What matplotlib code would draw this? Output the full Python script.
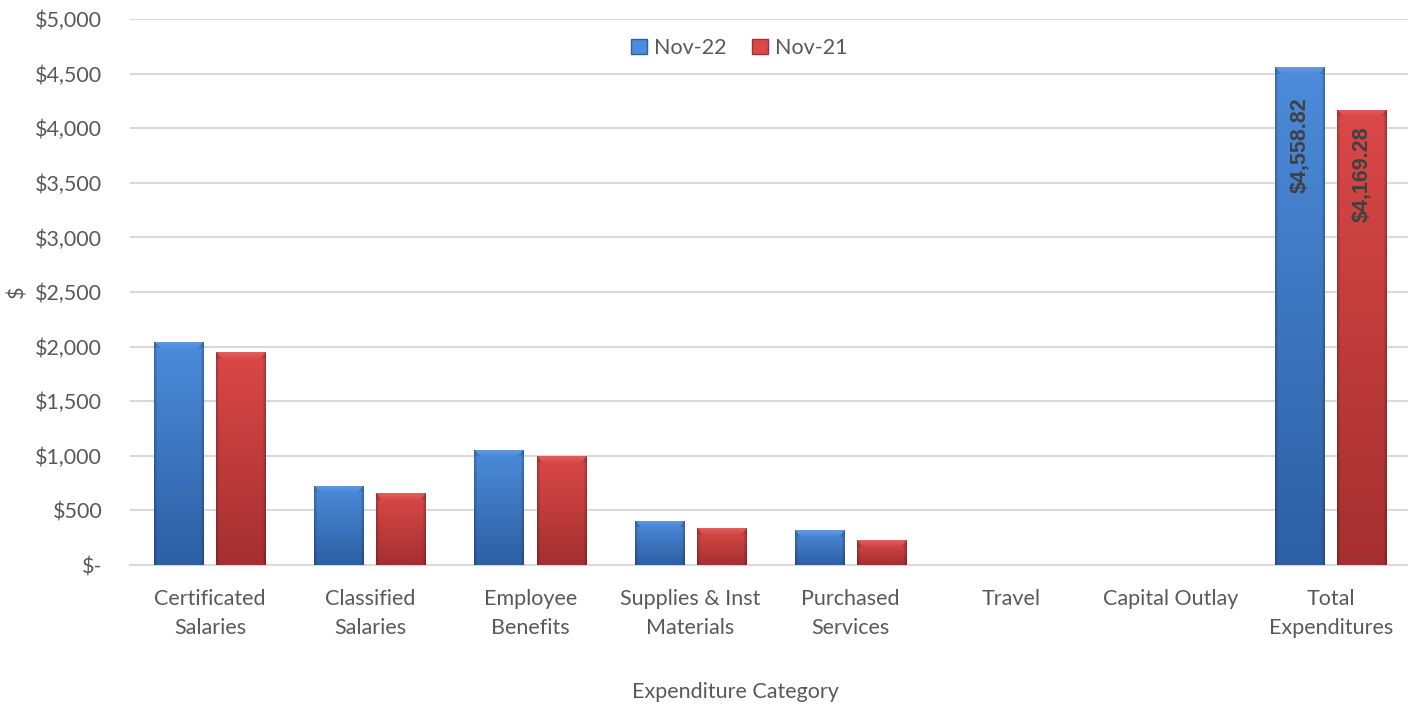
import numpy as np
import matplotlib
matplotlib.use("Agg")
import matplotlib.pyplot as plt
from matplotlib.patches import Patch
from matplotlib.colors import to_rgb
from matplotlib.ticker import FuncFormatter, MultipleLocator

plt.rcParams['font.family'] = ['Lato', 'DejaVu Sans']

categories = ["Certificated\nSalaries", "Classified\nSalaries", "Employee\nBenefits",
              "Supplies & Inst\nMaterials", "Purchased\nServices", "Travel",
              "Capital Outlay", "Total\nExpenditures"]
nov22 = [2045.10, 727.40, 1057.20, 404.60, 320.50, 1.20, 2.82, 4558.82]
nov21 = [1948.30, 657.90, 996.10, 337.80, 227.20, 0.80, 1.18, 4169.28]
series_names = ["Nov-22", "Nov-21"]

BLUE = ("#4C8CDB", "#2D5FA3")   # top, bottom of gradient
RED = ("#DB4848", "#A52F2F")
TEXT = "#595959"
GRID = "#D9D9D9"
FS = 15.5
BOLD_FAMILY = ["Liberation Sans", "DejaVu Sans"]

W, H, DPI = 1408, 705, 100
fig = plt.figure(figsize=(W / DPI, H / DPI), dpi=DPI)
ax = fig.add_axes([130 / W, 1 - 565 / H, 1281 / W, 546 / H])

x = np.arange(len(categories))
bw, off = 0.31, 0.194
ymax = 5000
px_per_unit = 546 / ymax


def shade_bar(bar, colors):
    """Paint a bevelled gradient over a bar, clipped to the bar outline."""
    h = bar.get_height()
    if h <= 0:
        return
    x0, w = bar.get_x(), bar.get_width()
    rows = max(2, int(round(h * px_per_unit)))
    cols = 50
    top, bot = np.array(to_rgb(colors[0])), np.array(to_rgb(colors[1]))
    t = np.linspace(0, 1, rows)[:, None, None]
    img = np.broadcast_to(top * (1 - t) + bot * t, (rows, cols, 3)).copy()
    # darker side edges
    u = np.arange(cols)
    d = np.minimum(u, cols - 1 - u)
    edge = 1 - 0.22 * np.clip(1 - d / 3.0, 0, 1)
    img *= edge[None, :, None]
    # soft chamfer along the top
    bev = min(7, rows)
    for r in range(bev):
        k = 0.12 * (1 - r / bev)
        lo, hi = r, cols - 1 - r
        img[r, lo:hi + 1] = img[r, lo:hi + 1] + (1 - img[r, lo:hi + 1]) * k
        img[r, :lo] *= 0.9
        img[r, hi + 1:] *= 0.9
    im = ax.imshow(np.clip(img, 0, 1), extent=(x0, x0 + w, 0, h), origin="upper",
                   aspect="auto", interpolation="bilinear", zorder=3)
    im.set_clip_path(bar)


bars22 = ax.bar(x - off, nov22, bw, color=BLUE[1], zorder=2, linewidth=0)
bars21 = ax.bar(x + off, nov21, bw, color=RED[1], zorder=2, linewidth=0)
for b in bars22:
    shade_bar(b, BLUE)
for b in bars21:
    shade_bar(b, RED)

# value labels on the totals
last = len(categories) - 1
for xs, vals, dy in ((x - off, nov22, -30), (x + off, nov21, -17)):
    ax.annotate(f"${vals[last]:,.2f}", (xs[last], vals[last]), xytext=(0, dy),
                textcoords="offset pixels", rotation=90, ha="center", va="top",
                fontsize=15.5, fontweight="bold", family=BOLD_FAMILY,
                color="#404040", zorder=5)

ax.set_xlim(-0.5, len(categories) - 0.5)
ax.set_ylim(0, ymax)
ax.yaxis.set_major_locator(MultipleLocator(500))
ax.yaxis.set_major_formatter(FuncFormatter(lambda v, p: "$-" if v == 0 else f"${v:,.0f}"))
ax.grid(axis="y", color=GRID, linewidth=1.5, zorder=0)
ax.set_axisbelow(True)
for s in ("top", "right", "left"):
    ax.spines[s].set_visible(False)
ax.spines["bottom"].set_color(GRID)
ax.spines["bottom"].set_linewidth(1.5)
ax.tick_params(axis="both", length=0, labelsize=FS, labelcolor=TEXT)
ax.tick_params(axis="y", pad=20)
ax.tick_params(axis="x", pad=17)
ax.set_xticks(x)
ax.set_xticklabels(categories, linespacing=1.6)

fig.text(735 / W, 1 - 692 / H, "Expenditure Category", ha="center", va="center",
         fontsize=FS, color=TEXT)
fig.text(17 / W, 1 - 292 / H, "$", ha="center", va="center", rotation=90,
         fontsize=FS, color=TEXT)
# chart title sits above the top edge; only its lowest strokes reach the canvas
fig.text(771 / W, 1 + 7 / H, "Expenditures by Category", ha="center", va="baseline",
         fontsize=20, fontweight="bold", family=BOLD_FAMILY, color="#404040")

handles = [Patch(facecolor=BLUE[0], edgecolor=BLUE[1]), Patch(facecolor=RED[0], edgecolor=RED[1])]
fig.legend(handles, series_names, loc="center", bbox_to_anchor=(739 / W, 1 - 48 / H),
           ncol=2, frameon=False, fontsize=FS, labelcolor=TEXT, handlelength=0.75,
           handleheight=0.75, handletextpad=0.3, columnspacing=1.2)

fig.savefig("out.png", dpi=DPI)
